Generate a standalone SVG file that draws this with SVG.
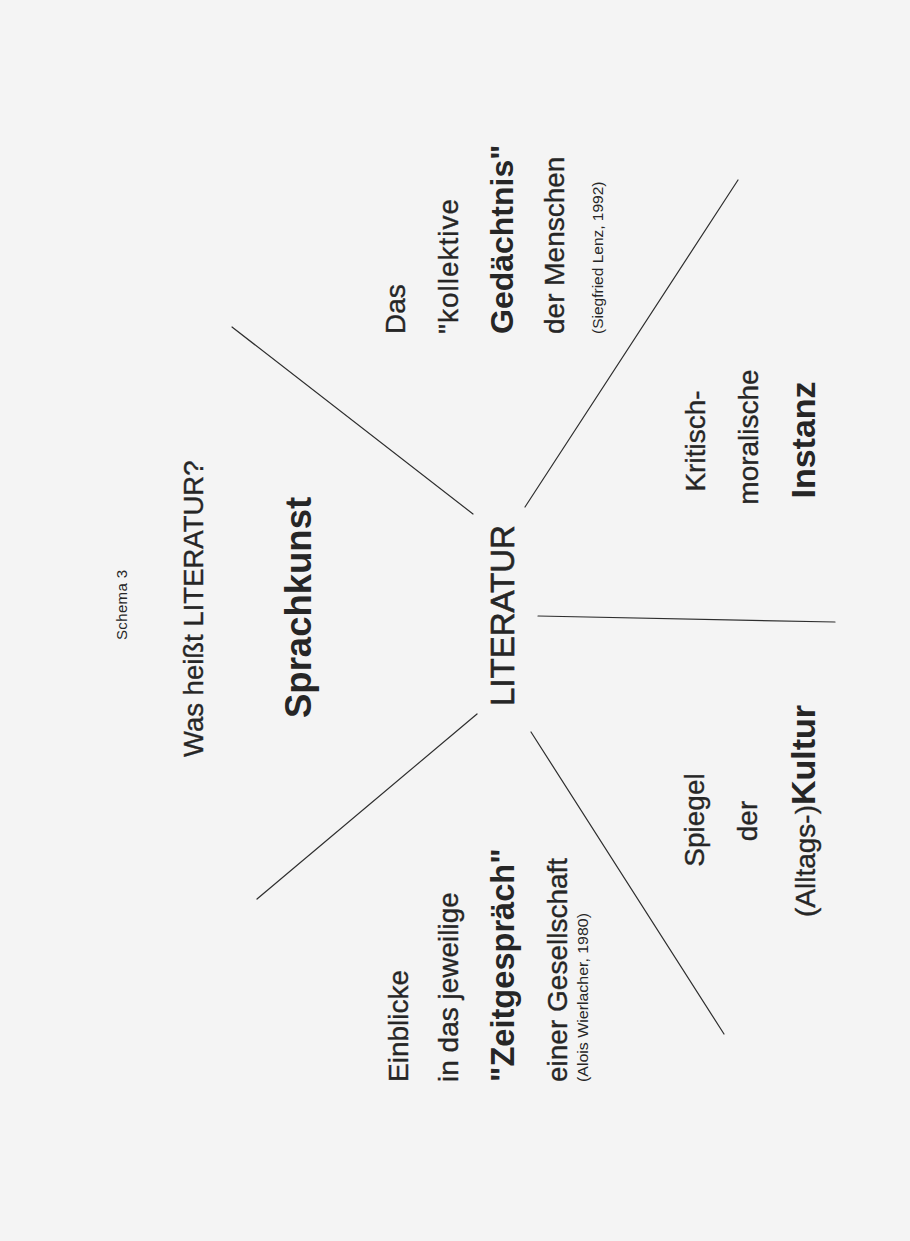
<svg xmlns="http://www.w3.org/2000/svg" width="910" height="1241" viewBox="0 0 910 1241">
<style>
text{font-family:"Liberation Sans",Arial,sans-serif;fill:#262626}
.w{stroke:#262626;stroke-width:0.35}
.n{font-size:28px;stroke:#262626;stroke-width:0.35}
.b{font-size:34px;font-weight:bold}
.s{font-size:15.5px}
.m{text-anchor:middle}
.c line{stroke:#2e2e2e;stroke-width:1.2;stroke-linecap:round}
</style>
<rect width="910" height="1241" fill="#f4f4f4"/>
<g id="title">
<text style="font-size:15px" transform="translate(127,640) rotate(-90)" textLength="70">Schema  3</text>
<text class="w" style="font-size:27.5px" transform="translate(203,757) rotate(-90)">Was heißt LITERATUR?</text>
</g>
<g class="c" id="connectors">
<line x1="232" y1="327" x2="473" y2="514"/>
<line x1="738" y1="180" x2="525" y2="507"/>
<line x1="538" y1="616" x2="835" y2="622"/>
<line x1="257" y1="899" x2="477" y2="714"/>
<line x1="531" y1="732" x2="724" y2="1034"/>
</g>
<g id="center">
<text style="font-size:33px;stroke:#262626;stroke-width:0.6" transform="translate(514,706) rotate(-90)">LITERATUR</text>
</g>
<g id="sprachkunst">
<text class="b" style="font-size:36.5px" transform="translate(311,718) rotate(-90)">Sprachkunst</text>
</g>
<g id="gedaechtnis">
<text class="n" transform="translate(405,334) rotate(-90)">Das</text>
<text class="n" transform="translate(458,334) rotate(-90)" textLength="135">"kollektive</text>
<text class="b" style="font-size:32px" transform="translate(513,334) rotate(-90)">Gedächtnis"</text>
<text class="n" transform="translate(564,334) rotate(-90)">der Menschen</text>
<text class="s" transform="translate(603,334) rotate(-90)">(Siegfried Lenz, 1992)</text>
</g>
<g id="instanz">
<text class="n m" transform="translate(705,441) rotate(-90)">Kritisch-</text>
<text class="n m" transform="translate(758,437) rotate(-90)">moralische</text>
<text class="b m" transform="translate(815,440) rotate(-90)">Instanz</text>
</g>
<g id="kultur">
<text class="n m" transform="translate(704,820) rotate(-90)">Spiegel</text>
<text class="n m" transform="translate(757,821) rotate(-90)">der</text>
<text class="n m" transform="translate(815,811) rotate(-90)">(Alltags-)<tspan class="b" style="stroke:none">Kultur</tspan></text>
</g>
<g id="zeitgespraech">
<text class="n" transform="translate(408,1082) rotate(-90)">Einblicke</text>
<text class="n" transform="translate(458,1082) rotate(-90)">in das jeweilige</text>
<text class="b" style="font-size:32.6px" transform="translate(514,1082) rotate(-90)">"Zeitgespräch"</text>
<text class="n" transform="translate(567,1082) rotate(-90)">einer Gesellschaft</text>
<text style="font-size:14px" transform="translate(588,1082) rotate(-90)" textLength="169" lengthAdjust="spacingAndGlyphs">(Alois Wierlacher, 1980)</text>
</g>
</svg>
